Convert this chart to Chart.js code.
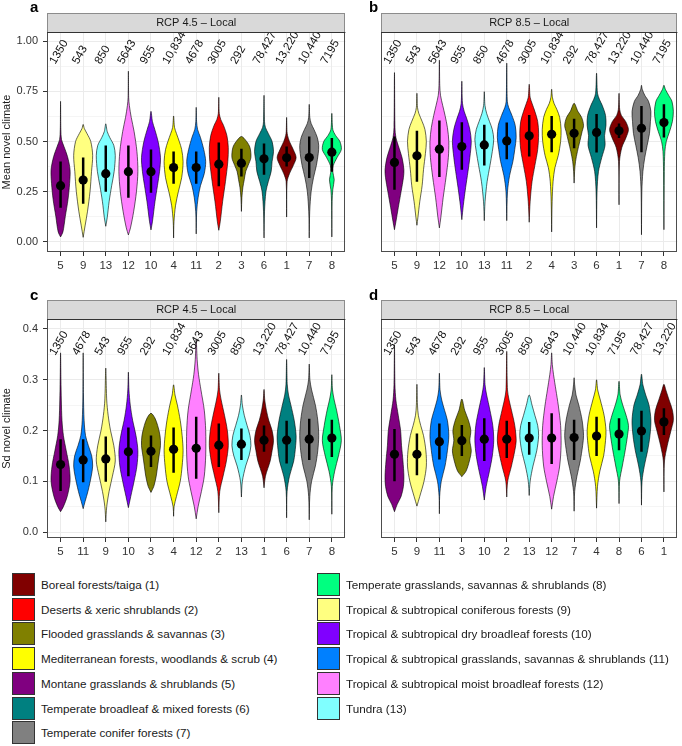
<!DOCTYPE html>
<html>
<head>
<meta charset="utf-8">
<script src="https://cdn.jsdelivr.net/npm/chart.js@4.4.0/dist/chart.umd.min.js"></script>
<style>
body{margin:0;background:#fff;width:682px;height:746px;position:relative;overflow:hidden;font-family:"Liberation Sans",Arial,sans-serif}
canvas{position:absolute}
.leg{position:absolute;height:23px;display:flex;align-items:center;font-size:11.7px;color:#1a1a1a;white-space:nowrap}
.leg .box{width:23px;height:23px;box-sizing:border-box;border:1px solid #333;margin-right:6px;flex:none}
</style>
</head>
<body>
<canvas id="pa" width="350" height="285" style="left:0;top:0"></canvas>
<canvas id="pb" width="341" height="285" style="left:341px;top:0"></canvas>
<canvas id="pc" width="350" height="285" style="left:0;top:285px"></canvas>
<canvas id="pd" width="341" height="285" style="left:341px;top:285px"></canvas>
<script>
// biome ids are 1..13, arrays below are indexed by id-1
const biomeNames = [
  'Boreal forests/taiga', 'Deserts & xeric shrublands', 'Flooded grasslands & savannas',
  'Mediterranean forests, woodlands & scrub', 'Montane grasslands & shrublands',
  'Temperate broadleaf & mixed forests', 'Temperate conifer forests',
  'Temperate grasslands, savannas & shrublands', 'Tropical & subtropical coniferous forests',
  'Tropical & subtropical dry broadleaf forests', 'Tropical & subtropical grasslands, savannas & shrublands',
  'Tropical & subtropical moist broadleaf forests', 'Tundra'
]
const biomeColors = ['#800000', '#FF0000', '#808000', '#FFFF00', '#800080', '#008080', '#808080',
  '#00FF80', '#FFFF80', '#8000FF', '#0080FF', '#FF80FF', '#80FFFF']
const biomeCounts = [13220, 3005, 292, 10834, 1350, 78427, 10440, 7195, 543, 955, 4678, 5643, 850]

// panel a: RCP 4.5 mean
const orderA = [5, 9, 13, 12, 10, 4, 11, 2, 3, 6, 1, 7, 8]
const meanA = [0.28, 0.308, 0.34, 0.35, 0.35, 0.37, 0.37, 0.387, 0.392, 0.414, 0.419, 0.42, 0.447]
const lowA = [0.17, 0.19, 0.25, 0.22, 0.245, 0.29, 0.29, 0.277, 0.326, 0.334, 0.376, 0.318, 0.35]
const highA = [0.40, 0.42, 0.48, 0.48, 0.46, 0.45, 0.45, 0.495, 0.464, 0.49, 0.475, 0.525, 0.517]
// violin outlines: [value, relative half width]
const shapeA = [
  [[0.025,0],[0.05,0.25],[0.127,0.5],[0.21,0.78],[0.29,0.95],[0.36,1],[0.425,0.73],[0.475,0.36],[0.51,0.1],[0.56,0.03],[0.70,0]],
  [[0.023,0],[0.08,0.2],[0.15,0.45],[0.25,0.72],[0.35,0.88],[0.43,1],[0.5,0.8],[0.54,0.4],[0.565,0.12],[0.585,0]],
  [[0.078,0],[0.12,0.15],[0.2,0.35],[0.28,0.62],[0.35,0.88],[0.43,1],[0.48,0.85],[0.52,0.42],[0.55,0.15],[0.588,0]],
  [[0.035,0],[0.07,0.22],[0.15,0.55],[0.25,0.85],[0.35,1],[0.45,0.9],[0.55,0.6],[0.62,0.3],[0.68,0.1],[0.72,0.03],[0.85,0]],
  [[0.06,0],[0.1,0.15],[0.2,0.42],[0.28,0.68],[0.35,0.9],[0.42,1],[0.5,0.75],[0.56,0.4],[0.6,0.15],[0.65,0]],
  [[0.02,0],[0.1,0.04],[0.18,0.2],[0.25,0.5],[0.32,0.85],[0.4,1],[0.46,0.85],[0.5,0.6],[0.54,0.3],[0.57,0.1],[0.627,0]],
  [[0.04,0],[0.15,0.05],[0.22,0.2],[0.28,0.45],[0.34,0.85],[0.4,1],[0.46,0.8],[0.52,0.45],[0.56,0.15],[0.6,0.04],[0.67,0]],
  [[0.058,0],[0.1,0.15],[0.2,0.4],[0.3,0.7],[0.4,0.95],[0.47,1],[0.53,0.85],[0.58,0.5],[0.61,0.2],[0.64,0.05],[0.72,0]],
  [[0.152,0],[0.22,0.05],[0.27,0.15],[0.31,0.3],[0.35,0.45],[0.38,0.7],[0.42,1],[0.47,0.9],[0.5,0.55],[0.525,0]],
  [[0.02,0],[0.15,0.05],[0.25,0.2],[0.3,0.45],[0.35,0.75],[0.4,0.85],[0.45,1],[0.5,0.85],[0.54,0.45],[0.57,0.15],[0.6,0.05],[0.73,0]],
  [[0.124,0],[0.3,0.05],[0.34,0.3],[0.38,0.7],[0.42,1],[0.46,0.7],[0.5,0.3],[0.53,0.1],[0.55,0.04],[0.62,0]],
  [[0.02,0],[0.15,0.05],[0.25,0.2],[0.32,0.45],[0.38,0.75],[0.44,0.95],[0.48,1],[0.52,0.85],[0.56,0.5],[0.59,0.2],[0.62,0.06],[0.685,0]],
  [[0.025,0],[0.2,0.03],[0.26,0.1],[0.31,0.25],[0.35,0.1],[0.38,0.15],[0.42,0.55],[0.46,1],[0.5,0.85],[0.53,0.4],[0.56,0.1],[0.64,0]]
]

// panel b: RCP 8.5 mean
const orderB = [5, 9, 12, 10, 13, 11, 2, 4, 3, 6, 1, 7, 8]
const meanB = [0.396, 0.429, 0.462, 0.475, 0.483, 0.503, 0.528, 0.536, 0.541, 0.545, 0.553, 0.566, 0.594]
const lowB = [0.26, 0.30, 0.323, 0.36, 0.38, 0.412, 0.425, 0.447, 0.467, 0.445, 0.517, 0.447, 0.52]
const highB = [0.525, 0.553, 0.604, 0.596, 0.583, 0.594, 0.632, 0.627, 0.613, 0.637, 0.59, 0.677, 0.685]
const shapeB = [
  [[0.061,0],[0.1,0.15],[0.17,0.4],[0.25,0.7],[0.32,0.95],[0.36,1],[0.42,0.8],[0.48,0.4],[0.52,0.15],[0.57,0.05],[0.843,0]],
  [[0.083,0],[0.12,0.1],[0.2,0.3],[0.28,0.55],[0.36,0.7],[0.44,0.9],[0.5,1],[0.56,0.85],[0.6,0.55],[0.64,0.2],[0.67,0.06],[0.74,0]],
  [[0.07,0],[0.12,0.15],[0.22,0.4],[0.32,0.7],[0.42,0.95],[0.5,1],[0.57,0.85],[0.63,0.6],[0.68,0.35],[0.73,0.12],[0.78,0.04],[0.905,0]],
  [[0.111,0],[0.18,0.15],[0.27,0.4],[0.35,0.65],[0.42,0.85],[0.5,1],[0.56,0.85],[0.61,0.55],[0.65,0.25],[0.69,0.07],[0.8,0]],
  [[0.106,0],[0.2,0.08],[0.3,0.3],[0.38,0.6],[0.45,0.85],[0.51,1],[0.56,0.85],[0.6,0.55],[0.64,0.25],[0.68,0.07],[0.748,0]],
  [[0.106,0],[0.25,0.08],[0.33,0.3],[0.4,0.65],[0.46,0.85],[0.52,1],[0.58,0.9],[0.63,0.55],[0.67,0.2],[0.7,0.06],[0.89,0]],
  [[0.098,0],[0.2,0.1],[0.3,0.3],[0.38,0.6],[0.46,0.9],[0.54,1],[0.6,0.9],[0.65,0.6],[0.69,0.3],[0.72,0.1],[0.785,0]],
  [[0.05,0],[0.2,0.05],[0.3,0.15],[0.37,0.35],[0.43,0.7],[0.5,0.95],[0.56,1],[0.62,0.85],[0.66,0.55],[0.69,0.25],[0.72,0.08],[0.76,0]],
  [[0.293,0],[0.35,0.05],[0.4,0.15],[0.45,0.35],[0.5,0.6],[0.55,0.85],[0.58,1],[0.62,0.8],[0.65,0.4],[0.69,0]],
  [[0.07,0],[0.25,0.05],[0.35,0.2],[0.42,0.55],[0.48,0.9],[0.53,0.85],[0.58,1],[0.63,0.95],[0.68,0.6],[0.71,0.3],[0.74,0.1],[0.84,0]],
  [[0.185,0],[0.4,0.05],[0.47,0.3],[0.52,0.75],[0.56,1],[0.6,0.7],[0.63,0.25],[0.66,0.07],[0.74,0]],
  [[0.036,0],[0.25,0.04],[0.35,0.15],[0.42,0.35],[0.48,0.6],[0.54,0.85],[0.6,0.95],[0.65,1],[0.7,0.75],[0.73,0.35],[0.76,0.08],[0.78,0]],
  [[0.061,0],[0.35,0.04],[0.45,0.1],[0.5,0.25],[0.55,0.6],[0.6,0.9],[0.65,1],[0.7,0.85],[0.73,0.5],[0.76,0.15],[0.78,0]]
]

// panel c: RCP 4.5 sd
const orderC = [5, 11, 9, 10, 3, 4, 12, 2, 13, 1, 6, 7, 8]
const meanC = [0.133, 0.142, 0.144, 0.158, 0.159, 0.163, 0.165, 0.171, 0.173, 0.181, 0.181, 0.183, 0.185]
const lowC = [0.081, 0.098, 0.099, 0.11, 0.128, 0.117, 0.105, 0.128, 0.142, 0.158, 0.135, 0.142, 0.148]
const highC = [0.183, 0.183, 0.188, 0.206, 0.19, 0.206, 0.227, 0.214, 0.204, 0.21, 0.219, 0.223, 0.221]
const shapeC = [
  [[0.04,0],[0.05,0.3],[0.07,0.7],[0.1,1],[0.13,0.9],[0.16,0.6],[0.19,0.3],[0.22,0.15],[0.26,0.08],[0.3,0.04],[0.353,0]],
  [[0.046,0],[0.06,0.2],[0.08,0.5],[0.11,0.85],[0.13,1],[0.15,0.9],[0.17,0.55],[0.19,0.25],[0.22,0.1],[0.27,0.03],[0.353,0]],
  [[0.02,0],[0.05,0.1],[0.08,0.35],[0.11,0.7],[0.14,1],[0.17,0.85],[0.2,0.5],[0.23,0.25],[0.26,0.1],[0.323,0]],
  [[0.048,0],[0.07,0.25],[0.1,0.6],[0.13,0.9],[0.16,1],[0.19,0.8],[0.22,0.45],[0.25,0.2],[0.28,0.06],[0.315,0]],
  [[0.078,0],[0.09,0.3],[0.11,0.55],[0.13,0.7],[0.15,0.85],[0.17,1],[0.19,0.95],[0.21,0.7],[0.225,0.4],[0.234,0]],
  [[0.031,0],[0.05,0.05],[0.07,0.3],[0.1,0.7],[0.13,0.9],[0.16,1],[0.19,0.9],[0.22,0.7],[0.25,0.4],[0.27,0.15],[0.29,0]],
  [[0.026,0],[0.05,0.2],[0.08,0.55],[0.11,0.85],[0.15,1],[0.2,1],[0.24,0.85],[0.28,0.5],[0.31,0.25],[0.34,0.1],[0.379,0]],
  [[0.038,0],[0.08,0.1],[0.11,0.45],[0.14,0.8],[0.17,1],[0.2,0.9],[0.23,0.6],[0.26,0.25],[0.28,0.08],[0.313,0]],
  [[0.069,0],[0.1,0.1],[0.13,0.45],[0.15,0.8],[0.17,1],[0.19,0.9],[0.21,0.6],[0.23,0.3],[0.25,0.1],[0.27,0]],
  [[0.087,0],[0.11,0.15],[0.14,0.65],[0.16,0.85],[0.18,1],[0.2,0.85],[0.22,0.5],[0.24,0.25],[0.26,0.08],[0.281,0]],
  [[0.028,0],[0.08,0.05],[0.11,0.3],[0.14,0.75],[0.17,0.95],[0.19,1],[0.22,0.8],[0.25,0.45],[0.27,0.2],[0.29,0.07],[0.34,0]],
  [[0.024,0],[0.07,0.06],[0.1,0.25],[0.13,0.65],[0.16,0.9],[0.19,1],[0.22,0.9],[0.25,0.65],[0.28,0.25],[0.3,0.07],[0.331,0]],
  [[0.035,0],[0.09,0.05],[0.12,0.3],[0.15,0.7],[0.18,1],[0.21,0.8],[0.24,0.5],[0.26,0.25],[0.28,0.07],[0.31,0]]
]

// panel d: RCP 8.5 sd
const orderD = [5, 9, 11, 3, 10, 2, 13, 12, 7, 4, 8, 6, 1]
const meanD = [0.153, 0.153, 0.178, 0.18, 0.183, 0.183, 0.185, 0.185, 0.186, 0.189, 0.193, 0.199, 0.217]
const lowD = [0.1, 0.112, 0.143, 0.15, 0.14, 0.146, 0.152, 0.134, 0.142, 0.15, 0.161, 0.158, 0.191]
const highD = [0.203, 0.194, 0.214, 0.211, 0.224, 0.219, 0.217, 0.234, 0.221, 0.227, 0.224, 0.239, 0.244]
const shapeD = [
  [[0.04,0],[0.055,0.3],[0.07,0.7],[0.09,0.95],[0.11,1],[0.14,0.9],[0.17,0.75],[0.2,0.65],[0.23,0.4],[0.26,0.15],[0.29,0.05],[0.369,0]],
  [[0.051,0],[0.07,0.3],[0.1,0.75],[0.13,1],[0.16,0.95],[0.19,0.7],[0.21,0.4],[0.23,0.15],[0.25,0.06],[0.291,0]],
  [[0.036,0],[0.07,0.03],[0.1,0.2],[0.13,0.6],[0.16,0.85],[0.19,1],[0.22,0.85],[0.24,0.55],[0.26,0.25],[0.28,0.07],[0.313,0]],
  [[0.109,0],[0.12,0.45],[0.14,0.8],[0.16,1],[0.18,0.85],[0.2,0.95],[0.22,0.7],[0.24,0.3],[0.262,0]],
  [[0.063,0],[0.09,0.2],[0.12,0.55],[0.15,0.85],[0.18,1],[0.21,0.9],[0.24,0.6],[0.27,0.25],[0.29,0.08],[0.324,0]],
  [[0.069,0],[0.1,0.1],[0.13,0.5],[0.16,0.85],[0.18,1],[0.21,0.85],[0.24,0.5],[0.26,0.25],[0.28,0.08],[0.356,0]],
  [[0.072,0],[0.1,0.1],[0.13,0.4],[0.16,0.8],[0.19,1],[0.21,0.9],[0.23,0.6],[0.25,0.3],[0.27,0]],
  [[0.045,0],[0.07,0.2],[0.1,0.55],[0.13,0.85],[0.17,1],[0.21,0.95],[0.25,0.7],[0.28,0.45],[0.31,0.2],[0.33,0.07],[0.353,0]],
  [[0.041,0],[0.08,0.06],[0.11,0.3],[0.14,0.65],[0.17,0.9],[0.19,1],[0.22,0.85],[0.25,0.5],[0.27,0.2],[0.29,0.06],[0.304,0]],
  [[0.047,0],[0.09,0.1],[0.12,0.35],[0.15,0.75],[0.18,0.95],[0.2,1],[0.23,0.8],[0.26,0.4],[0.28,0.12],[0.3,0]],
  [[0.056,0],[0.1,0.06],[0.13,0.35],[0.16,0.65],[0.19,0.9],[0.21,1],[0.23,0.75],[0.25,0.4],[0.27,0.12],[0.297,0]],
  [[0.053,0],[0.1,0.06],[0.13,0.3],[0.16,0.65],[0.19,0.9],[0.22,1],[0.25,0.8],[0.27,0.45],[0.29,0.15],[0.311,0]],
  [[0.079,0],[0.14,0.06],[0.17,0.35],[0.2,0.75],[0.22,1],[0.24,0.9],[0.26,0.55],[0.28,0.2],[0.291,0]]
]

const ticksMean = [0, 0.125, 0.25, 0.375, 0.5, 0.625, 0.75, 0.875, 1]
const ticksSd = [0, 0.05, 0.1, 0.15, 0.2, 0.25, 0.3, 0.35, 0.4]

Chart.defaults.font.family = '"Liberation Sans", Arial, sans-serif'
Chart.defaults.color = '#333'

const fmtCount = n => n >= 10000 ? n.toLocaleString('en-US') : String(n)
const HALF = 0.42

function decor(p) {
  return {
    id: 'decor' + p.letter,
    afterDatasetsDraw(chart) {
      const a = chart.chartArea, ctx = chart.ctx
      ctx.save()
      ctx.strokeStyle = '#4d4d4d'
      ctx.lineWidth = 1
      ctx.strokeRect(Math.round(a.left) + 0.5, Math.round(a.top) + 0.5, Math.round(a.right - a.left) - 1, Math.round(a.bottom - a.top) - 1)
      // counts
      ctx.fillStyle = '#111'
      ctx.font = '11.5px "Liberation Sans", Arial, sans-serif'
      ctx.textAlign = 'left'
      ctx.textBaseline = 'middle'
      const y0 = chart.scales.y.getPixelForValue(p.countY)
      p.order.forEach((b, i) => {
        ctx.save()
        ctx.translate(chart.scales.x.getPixelForValue(i) - 8, y0)
        ctx.rotate(-Math.PI / 3)
        ctx.fillText(fmtCount(biomeCounts[b - 1]), 0, 0)
        ctx.restore()
      })
      ctx.restore()
    },
    afterDraw(chart) {
      const a = chart.chartArea, ctx = chart.ctx
      const h = 19, top = Math.round(a.top) - h
      ctx.save()
      ctx.fillStyle = '#D9D9D9'
      ctx.fillRect(Math.round(a.left), top, Math.round(a.right - a.left), h)
      ctx.strokeStyle = '#8c8c8c'
      ctx.lineWidth = 1
      ctx.strokeRect(Math.round(a.left) + 0.5, top + 0.5, Math.round(a.right - a.left) - 1, h)
      ctx.strokeStyle = '#333'
      ctx.beginPath()
      ctx.moveTo(a.left, Math.round(a.top) + 0.5)
      ctx.lineTo(a.right, Math.round(a.top) + 0.5)
      ctx.stroke()
      ctx.fillStyle = '#1a1a1a'
      ctx.font = '11px "Liberation Sans", Arial, sans-serif'
      ctx.textAlign = 'center'
      ctx.textBaseline = 'middle'
      ctx.fillText(p.strip, (a.left + a.right) / 2, top + h / 2 + 0.5)
      ctx.font = 'bold 15px "Liberation Sans", Arial, sans-serif'
      ctx.textAlign = 'left'
      ctx.textBaseline = 'alphabetic'
      ctx.fillStyle = '#000'
      ctx.fillText(p.letter, p.letterX, p.letterY)
      ctx.restore()
    }
  }
}

function makePanel(id, p) {
  const datasets = p.order.map((b, i) => {
    const knots = p.shape[i]
    const right = knots.map(k => ({x: i + k[1] * HALF, y: k[0]}))
    const left = knots.slice(0, -1).reverse().map(k => ({x: i - k[1] * HALF, y: k[0]}))
    return {
      data: right.concat(left), showLine: true, fill: 'shape',
      backgroundColor: biomeColors[b - 1], borderColor: '#000', borderWidth: 0.6,
      pointRadius: 0, tension: 0.3, order: 3
    }
  })
  datasets.push({
    data: p.order.flatMap((b, i) => [{x: i, y: p.low[i]}, {x: i, y: p.high[i]}, {x: i, y: null}]),
    showLine: true, spanGaps: false, borderColor: '#000', borderWidth: 2.5,
    pointRadius: 0, fill: false, order: 2
  })
  datasets.push({
    data: p.mean.map((m, i) => ({x: i, y: m})),
    pointRadius: 4.6, pointBackgroundColor: '#000', pointBorderWidth: 0, order: 1
  })

  new Chart(document.getElementById(id), {
    type: 'scatter',
    data: {datasets},
    options: {
      responsive: false,
      animation: false,
      layout: {padding: {top: p.padTop, right: p.padRight, left: 0, bottom: 0}},
      plugins: {legend: {display: false}, tooltip: {enabled: false}},
      scales: {
        x: {
          type: 'linear', min: -0.6, max: 12.6,
          afterBuildTicks: s => { s.ticks = p.order.map((b, i) => ({value: i})) },
          afterFit: s => { s.height = p.xHeight },
          ticks: {callback: (v, i) => String(p.order[i]), autoSkip: false, maxRotation: 0,
            color: '#333', font: {size: 11.5}, padding: 3},
          grid: {color: '#EBEBEB', tickColor: '#333', tickLength: 4},
          border: {display: false}
        },
        y: {
          min: p.yMin, max: p.yMax,
          afterBuildTicks: s => { s.ticks = p.yTicks.map(v => ({value: v})) },
          afterFit: s => { s.width = p.yWidth },
          ticks: {display: p.showY, color: '#333', font: {size: 11}, padding: 5,
            callback: (v, i) => i % 2 === 0 ? v.toFixed(p.dec) : ''},
          grid: {
            color: '#EBEBEB',
            lineWidth: c => c.index % 2 === 0 ? 1 : 0.5,
            drawTicks: p.showY, tickLength: 4,
            tickColor: c => c.index % 2 === 0 ? '#333' : 'rgba(0,0,0,0)'
          },
          border: {display: false},
          title: {display: p.showY, text: p.yTitle, padding: 0, color: '#1a1a1a', font: {size: 11}}
        }
      }
    },
    plugins: [decor(p)]
  })
}

const leftPanel = {showY: true, yWidth: 47, padRight: 2, letterX: 30}
const rightPanel = {showY: false, yWidth: 40, padRight: 1, letterX: 28}
const meanPanel = {yMin: -0.05, yMax: 1.045, yTicks: ticksMean, dec: 2, yTitle: 'Mean novel climate',
  countY: 0.89, padTop: 32, xHeight: 33, letterY: 12}
const sdPanel = {yMin: -0.0118, yMax: 0.4197, yTicks: ticksSd, dec: 1, yTitle: 'Sd novel climate',
  countY: 0.35, padTop: 34, xHeight: 32, letterY: 15}

makePanel('pa', {...leftPanel, ...meanPanel, letter: 'a', strip: 'RCP 4.5 – Local',
  order: orderA, mean: meanA, low: lowA, high: highA, shape: shapeA})
makePanel('pb', {...rightPanel, ...meanPanel, letter: 'b', strip: 'RCP 8.5 – Local',
  order: orderB, mean: meanB, low: lowB, high: highB, shape: shapeB})
makePanel('pc', {...leftPanel, ...sdPanel, letter: 'c', strip: 'RCP 4.5 – Local',
  order: orderC, mean: meanC, low: lowC, high: highC, shape: shapeC})
makePanel('pd', {...rightPanel, ...sdPanel, letter: 'd', strip: 'RCP 8.5 – Local',
  order: orderD, mean: meanD, low: lowD, high: highD, shape: shapeD})

// legend, two columns
biomeNames.forEach((name, k) => {
  const col = k < 7 ? 0 : 1, row = k < 7 ? k : k - 7
  const item = document.createElement('div')
  item.className = 'leg'
  item.style.left = (col ? 317 : 12) + 'px'
  item.style.top = (573 + row * 24.7) + 'px'
  const box = document.createElement('span')
  box.className = 'box'
  box.style.background = biomeColors[k]
  item.appendChild(box)
  item.appendChild(document.createTextNode(name + ' (' + (k + 1) + ')'))
  document.body.appendChild(item)
})
</script>
</body>
</html>
